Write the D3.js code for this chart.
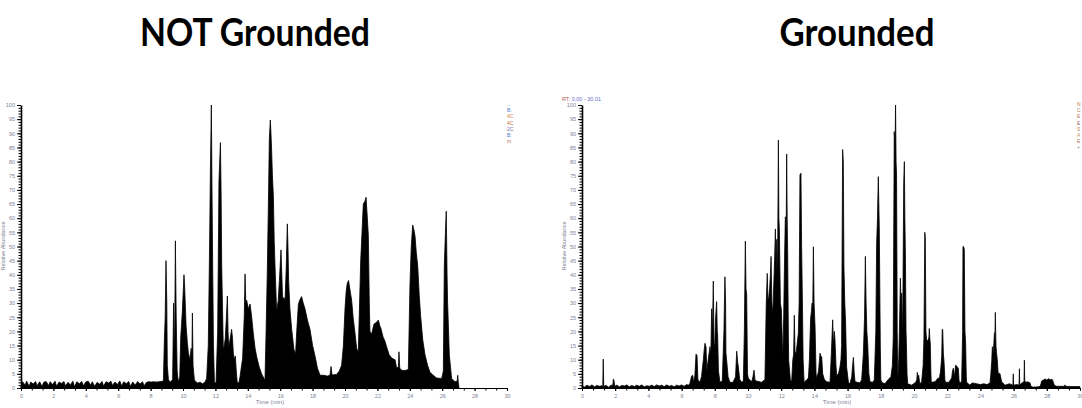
<!DOCTYPE html>
<html>
<head>
<meta charset="utf-8">
<script src="https://cdn.jsdelivr.net/npm/d3@7"></script>
<style>
  body { margin: 0; background: #fff; }
  svg { display: block; }
</style>
</head>
<body>
<svg id="chart" width="1082" height="408"></svg>
<script>
// ---- data: [time (min), relative abundance] ----
var titles = ['NOT Grounded', 'Grounded']
var xTickLabels = [0, 2, 4, 6, 8, 10, 12, 14, 16, 18, 20, 22, 24, 26, 28, 30]
var yTickLabels = [0, 5, 10, 15, 20, 25, 30, 35, 40, 45, 50, 55, 60, 65, 70, 75, 80, 85, 90, 95, 100]

var notGroundedNoise = [[0,0.5],[0.1,2.2],[0.25,1.0],[0.35,2.4],[0.5,0.6],[0.6,2.1],[0.75,1.4],[0.9,2.3],[1.0,0.8],
  [1.15,2.2],[1.3,0.5],[1.4,2.0],[1.55,2.3],[1.7,0.9],[1.8,2.2],[1.95,1.2],[2.1,2.4],[2.2,0.6],[2.35,2.1],[2.5,1.6],
  [2.65,2.3],[2.75,0.7],[2.9,2.0],[3.05,1.1],[3.2,2.4],[3.3,0.5],[3.45,2.2],[3.6,1.5],[3.75,2.3],[3.85,0.8],[4.0,2.1],
  [4.15,2.4],[4.3,1.0],[4.4,2.2],[4.55,0.6],[4.7,2.0],[4.85,1.3],[5.0,2.3],[5.1,0.7],[5.25,2.2],[5.4,1.8],[5.55,2.4],
  [5.65,0.9],[5.8,2.1],[5.95,1.2],[6.1,2.5],[6.2,0.8],[6.35,2.2],[6.5,1.5],[6.65,2.3],[6.75,0.6],[6.9,2.1],[7.05,1.0],
  [7.2,2.3],[7.35,1.4],[7.5,2.2],[7.6,0.8],[7.75,2.0],[7.9,2.2],[8.05,2.1],[8.2,2.2],[8.35,2.1],[8.5,2.2],[8.65,2.3]]

var notGroundedPeaks = [[8.79,2.5],[8.85,17],[8.9,25],[8.95,45],[9.0,30],[9.03,8],[9.1,3],[9.2,2],
  [9.36,3],[9.42,30],[9.48,12],[9.53,52],[9.58,25],[9.64,6],[9.71,2],
  [9.8,4],[9.86,18],[9.96,27],[10.06,40],[10.1,36],[10.19,22],[10.27,16],[10.33,12.5],[10.43,10],[10.5,14],[10.55,12],
  [10.58,26.5],[10.62,8],[10.7,3],[10.74,2.5],[10.9,1.8],[11.05,2],[11.2,1.5],[11.35,2],[11.46,3.4],
  [11.56,15],[11.63,45],[11.69,76],[11.75,100],[11.79,70],[11.83,44],[11.88,15],[11.94,1.9],
  [12.04,1.8],[12.14,20],[12.22,73],[12.31,86.7],[12.35,70],[12.39,43],[12.45,25],[12.49,13.5],[12.55,15],[12.61,17.5],
  [12.68,25],[12.74,32.5],[12.78,20],[12.82,14.5],[12.9,17],[13.0,20.7],[13.05,18],[13.11,12],[13.18,10],[13.23,11.3],
  [13.3,5],[13.35,1.9],[13.45,1.8],[13.52,4],[13.68,10.5],[13.78,25],[13.83,40.3],[13.88,30],[13.93,31],[14.03,28],
  [14.14,29.7],[14.24,25],[14.34,19.3],[14.45,14],[14.55,11],[14.7,7.5],[14.85,5],[15.06,2.7],
  [15.12,17.6],[15.2,40],[15.27,64.5],[15.33,88],[15.39,94.7],[15.43,90],[15.47,84],[15.52,75],[15.58,67.6],[15.63,52],
  [15.68,43],[15.78,27],[15.88,31],[15.95,38],[16.05,48.8],[16.1,40],[16.15,31],[16.22,32],[16.3,31],[16.37,42],
  [16.44,58],[16.48,50],[16.52,38],[16.6,28],[16.71,20.7],[16.85,13.6],[16.95,12],
  [17.02,20],[17.12,29.5],[17.2,31],[17.32,32.3],[17.42,30],[17.53,28],[17.68,24],[17.84,20.7],[18.0,15],[18.15,11.3],
  [18.3,7],[18.46,4.5],[18.7,4.5],[18.9,4.2],[19.07,4.5],[19.14,7.6],[19.2,4.6],[19.48,4.8],[19.65,6],[19.79,8],
  [19.9,15],[20.0,28],[20.07,34],[20.14,37],[20.22,38],[20.27,36],[20.41,31],[20.5,25],[20.62,19.3],[20.72,14],[20.82,12.8],
  [20.9,30],[20.97,45],[21.05,55],[21.13,65],[21.23,66],[21.3,67.4],[21.38,60],[21.44,54],[21.5,30],[21.54,20],[21.64,19],
  [21.72,21],[21.79,22.6],[21.9,23],[22.06,24],[22.15,22],[22.22,21],[22.35,18],[22.47,16.5],[22.6,14],[22.73,11.7],
  [22.9,10.5],[23.09,10],[23.19,7],[23.3,7.5],[23.33,12.8],[23.38,7],[23.52,6.2],[23.7,6.2],[23.91,6.5],
  [24.01,36.5],[24.09,50],[24.18,57.6],[24.25,56],[24.32,53.8],[24.4,48],[24.49,43],[24.58,33],[24.67,25.4],[24.8,17],
  [24.94,11.7],[25.1,8],[25.25,5.5],[25.45,4.5],[25.66,3.5],[25.97,3.4],[26.07,6],[26.13,43],[26.2,55],[26.25,62.5],
  [26.3,40],[26.33,31],[26.44,11.7],[26.58,3.4],[26.79,2.2],[26.93,2.5],[26.96,4.5],[26.99,2],[27.04,0]]

var groundedNoise = [[0,0.8],[0.15,0.3],[0.3,1.0],[0.45,0.5],[0.6,1.1],[0.75,0.4],[0.9,0.9],[1.05,0.6],[1.2,0.8],
  [1.25,0.5],[1.28,10.2],[1.31,0.6],[1.45,0.9],[1.6,0.3],[1.75,1.0],[1.86,1.0],[1.89,3.2],[1.93,2.5],[1.97,0.6],
  [2.1,1.0],[2.25,0.4],[2.4,0.9],[2.55,0.7],[2.7,1.1],[2.85,0.4],[3.0,0.9],[3.15,0.5],[3.3,1.0],[3.45,0.6],[3.6,1.1],
  [3.75,0.4],[3.9,0.8],[4.05,0.6],[4.2,1.0],[4.35,0.5],[4.5,1.1],[4.65,0.7],[4.8,1.0],[4.95,0.5],[5.1,1.1],[5.25,0.6],
  [5.4,0.9],[5.55,0.4],[5.7,1.0],[5.85,0.7],[6.0,1.1],[6.15,0.6],[6.3,1.2],[6.4,1.0]]

var groundedPeaks = [[6.5,1.5],[6.6,4.2],[6.67,4.5],[6.72,2],[6.8,4.5],[6.87,12],[6.93,11.4],[6.98,3],[7.1,2],[7.2,4],
  [7.31,10],[7.37,14],[7.41,15.8],[7.47,14.5],[7.52,6],[7.58,9],[7.65,12],[7.71,14.6],[7.76,11],[7.81,28],[7.86,20],
  [7.91,37.8],[7.95,16],[7.99,14],[8.05,25],[8.11,30.5],[8.15,20],[8.17,19],[8.22,6],[8.31,2],[8.45,2.5],[8.55,20],
  [8.61,39.3],[8.65,30],[8.67,12.5],[8.71,10],[8.8,4],[8.91,2],[9.1,2],[9.25,4],[9.32,13],[9.38,9],[9.42,7.4],[9.5,3],
  [9.62,2],[9.72,2.5],[9.78,20],[9.84,51.9],[9.88,35],[9.92,33],[9.97,5],[10.02,3.4],[10.22,2.2],[10.3,4],[10.36,6.3],
  [10.42,3],[10.48,2.5],[10.82,2],[11.02,3],[11.1,30],[11.16,40.5],[11.2,31],[11.25,32],[11.3,35],[11.35,40],[11.39,46.5],
  [11.44,30],[11.49,26],[11.55,36],[11.6,45],[11.65,56.2],[11.7,40],[11.73,52.5],[11.78,40],[11.83,87.6],[11.86,60],
  [11.89,56],[11.95,30],[12.01,27.7],[12.05,20],[12.09,9.5],[12.15,25],[12.2,45],[12.25,60.5],[12.3,55],[12.33,82.7],
  [12.36,60],[12.39,47.3],[12.43,20],[12.45,9.8],[12.55,3],[12.63,2.2],[12.7,10],[12.75,12],[12.79,25.7],[12.83,13],
  [12.89,12],[12.95,15],[13.03,19.2],[13.08,30],[13.13,75.3],[13.19,75.9],[13.23,50],[13.27,33.5],[13.32,10],[13.38,2],
  [13.55,3],[13.64,3.5],[13.7,10],[13.77,24.5],[13.82,27],[13.86,30],[13.9,28],[13.94,49.9],[13.98,30],[14.04,21.6],
  [14.1,5],[14.14,3.4],[14.25,6],[14.34,12.3],[14.4,11],[14.44,11],[14.5,5],[14.6,3],[14.74,2.2],[14.94,2],[15.02,12],
  [15.1,24.1],[15.15,15],[15.2,20],[15.24,17],[15.3,8],[15.34,4.5],[15.45,5],[15.54,7.4],[15.6,10],[15.64,15],[15.7,84.3],
  [15.74,80],[15.78,42.8],[15.83,30],[15.88,23.2],[15.94,7.4],[16.05,2],[16.14,1.5],[16.25,4],[16.3,8],[16.35,10.8],
  [16.4,5],[16.45,2.2],[16.6,2],[16.75,1.8],[16.85,3],[16.95,12.1],[17.02,25],[17.07,46.5],[17.11,31],[17.16,20],
  [17.21,15.6],[17.28,5],[17.35,2.2],[17.5,2],[17.61,2.8],[17.7,20],[17.75,51.1],[17.8,60],[17.85,74.7],[17.91,56.2],
  [17.97,15],[18.0,3],[18.05,2],[18.25,1.5],[18.45,3],[18.61,4],[18.7,8],[18.75,18],[18.81,90.6],[18.86,85],[18.89,100],
  [18.92,80],[18.95,75.3],[18.99,20],[19.02,3],[19.08,10],[19.12,20],[19.18,38.8],[19.22,30],[19.26,33.5],[19.3,22],
  [19.32,21.7],[19.38,72.3],[19.42,80],[19.45,60],[19.48,48],[19.52,20],[19.54,16],[19.58,5],[19.62,1.5],[19.86,1],
  [20.1,2],[20.17,3],[20.2,5.5],[20.24,3.5],[20.28,4.5],[20.35,1.5],[20.46,2.2],[20.55,8],[20.6,18],[20.65,55],[20.68,53.5],
  [20.72,20],[20.76,16.8],[20.84,16.8],[20.9,18],[20.92,21],[20.96,17],[20.98,16],[21.02,5],[21.04,2],[21.27,2.2],
  [21.45,3.5],[21.53,3.4],[21.6,6],[21.67,11],[21.7,20.7],[21.73,20.7],[21.77,12],[21.81,9.3],[21.86,3],[21.89,2],
  [22.1,2],[22.27,3.5],[22.32,6],[22.37,7],[22.45,4],[22.5,8],[22.53,8],[22.6,7.5],[22.67,7],[22.71,3],[22.73,2],
  [22.87,2],[22.93,20],[22.95,50],[22.98,50],[23.03,49],[23.07,20],[23.11,16],[23.15,4],[23.17,2],[23.37,1],[23.5,1.8],
  [23.77,1.5],[24.0,1.2],[24.2,1.5],[24.4,1.2],[24.58,1.8],[24.63,5],[24.68,9.3],[24.72,14.6],[24.76,13],[24.78,12],
  [24.84,19.2],[24.88,20],[24.9,26.7],[24.92,20],[24.94,14.6],[24.98,12],[25.02,9.8],[25.06,6],[25.08,5],[25.15,5.2],
  [25.18,5],[25.28,2.2],[25.48,1],[25.75,1.5],[25.96,1],[25.98,5],[26.0,1],[26.2,1.2],[26.33,1],[26.35,6.8],[26.37,1],
  [26.49,1.8],[26.6,2],[26.63,2.5],[26.65,9.8],[26.67,2.5],[26.73,2],[26.85,2.2],[26.99,1.8],[27.05,0.5],[27.19,0.3],
  [27.45,0.4],[27.59,0.5],[27.65,1.5],[27.69,2.5],[27.79,2.8],[27.9,3.2],[28.0,2.8],[28.1,3.3],[28.2,2.9],[28.3,3.1],
  [28.35,2.8],[28.45,1],[28.59,0.6],[28.9,0.6],[29.06,0.6],[29.09,1.1],[29.12,0.6],[29.5,0.5],[29.99,0.5]]

var notGroundedLegend = ['...', 'B:', '4C', '4C', '2C', 'B:', 'm']
var notGroundedLegendColors = ['#5b7fd0', '#4a79c8', '#d08040', '#c86a3a', '#7a6bb0', '#4a79c8', '#b06a50']
var groundedLegend = ['N', 'C', 'E', 'E', 'S', 'A', 'E', '+']
var groundedLegendColors = ['#c07040', '#c08050', '#b07060', '#a06070', '#c08050', '#c09050', '#b07060', '#909090']

var svg = d3.select('#chart')
var labelColor = '#7d8495'
var fontSmall = 'Arial, "Liberation Sans", sans-serif'

var panels = [
  { title: titles[0], titleX: 255, titleLen: 230, left: 21, right: 507, data: notGroundedNoise.concat(notGroundedPeaks),
    legend: notGroundedLegend, legendColors: notGroundedLegendColors, legendX: 507, rt: false },
  { title: titles[1], titleX: 857, titleLen: 155, left: 582, right: 1080, data: groundedNoise.concat(groundedPeaks),
    legend: groundedLegend, legendColors: groundedLegendColors, legendX: 1077, rt: true }
]
var plotTop = 105, plotBottom = 388

panels.forEach(function(p) {
  var x = d3.scaleLinear().domain([0, 30]).range([p.left, p.right])
  var y = d3.scaleLinear().domain([0, 100]).range([plotBottom, plotTop])

  // title
  svg.append('text')
    .attr('x', p.titleX)
    .attr('y', 46)
    .attr('text-anchor', 'middle')
    .attr('textLength', p.titleLen)
    .attr('lengthAdjust', 'spacingAndGlyphs')
    .style('font-family', 'Lato, "Open Sans", sans-serif')
    .style('font-weight', 'bold')
    .style('font-size', '38px')
    .attr('fill', '#000')
    .text(p.title)

  // chromatogram trace
  var area = d3.area()
    .x(function(d) { return x(d[0]) })
    .y0(y(0))
    .y1(function(d) { return y(d[1]) })
  svg.append('path')
    .datum(p.data)
    .attr('d', area)
    .attr('fill', '#000')
    .attr('stroke', '#000')
    .attr('stroke-width', 0.8)
    .attr('stroke-linejoin', 'miter')

  // y axis: minor then major
  svg.append('g')
    .attr('transform', 'translate(' + p.left + ',0)')
    .call(d3.axisLeft(y).tickValues(d3.range(0, 101, 1)).tickSize(2.5).tickFormat(''))
    .call(function(g) { g.select('.domain').remove() })
  var ya = svg.append('g')
    .attr('transform', 'translate(' + p.left + ',0)')
    .call(d3.axisLeft(y).tickValues(yTickLabels).tickSize(4).tickSizeOuter(0).tickPadding(2))
  ya.select('.domain').attr('stroke-width', 1.6)
  ya.selectAll('text').attr('fill', labelColor).style('font-size', '5.5px').style('font-family', fontSmall)

  // x axis
  svg.append('g')
    .attr('transform', 'translate(0,' + plotBottom + ')')
    .call(d3.axisBottom(x).tickValues(d3.range(0, 30.01, 2 / 3)).tickSize(2.5).tickFormat(''))
    .call(function(g) { g.select('.domain').remove() })
  var xa = svg.append('g')
    .attr('transform', 'translate(0,' + plotBottom + ')')
    .call(d3.axisBottom(x).tickValues(xTickLabels).tickSize(3).tickSizeOuter(0).tickPadding(3))
  xa.select('.domain').attr('stroke-width', 1.2)
  xa.selectAll('text').attr('fill', labelColor).style('font-size', '5.5px').style('font-family', fontSmall)
  // last label sits on the page edge on the right panel
  xa.selectAll('text').filter(function(d) { return d === 30 && p.right > 1075 })
    .attr('text-anchor', 'end').attr('dx', 3)

  // axis titles
  svg.append('text')
    .attr('x', (p.left + p.right) / 2 + 6)
    .attr('y', 404)
    .attr('text-anchor', 'middle')
    .attr('fill', labelColor)
    .style('font-size', '6px')
    .style('font-family', fontSmall)
    .text('Time (min)')
  svg.append('text')
    .attr('transform', 'translate(' + (p.left - 16) + ',' + 246 + ') rotate(-90)')
    .attr('text-anchor', 'middle')
    .attr('fill', labelColor)
    .style('font-size', '5.5px')
    .style('font-family', fontSmall)
    .text('Relative Abundance')

  // clipped legend text at the right edge
  svg.selectAll(null)
    .data(p.legend)
    .enter()
    .append('text')
    .attr('x', p.legendX)
    .attr('y', function(d, i) { return 106 + i * 6.2 })
    .attr('fill', function(d, i) { return p.legendColors[i] })
    .style('font-size', '5px')
    .style('font-family', fontSmall)
    .text(function(d) { return d })

  if (p.rt) {
    var rt = svg.append('text')
      .attr('x', 562)
      .attr('y', 101)
      .style('font-size', '5.5px')
      .style('font-family', fontSmall)
    rt.append('tspan').attr('fill', '#b0604a').text('RT: ')
    rt.append('tspan').attr('fill', '#6a70c8').text('0.00 - 30.01')
  }
})
</script>
</body>
</html>
